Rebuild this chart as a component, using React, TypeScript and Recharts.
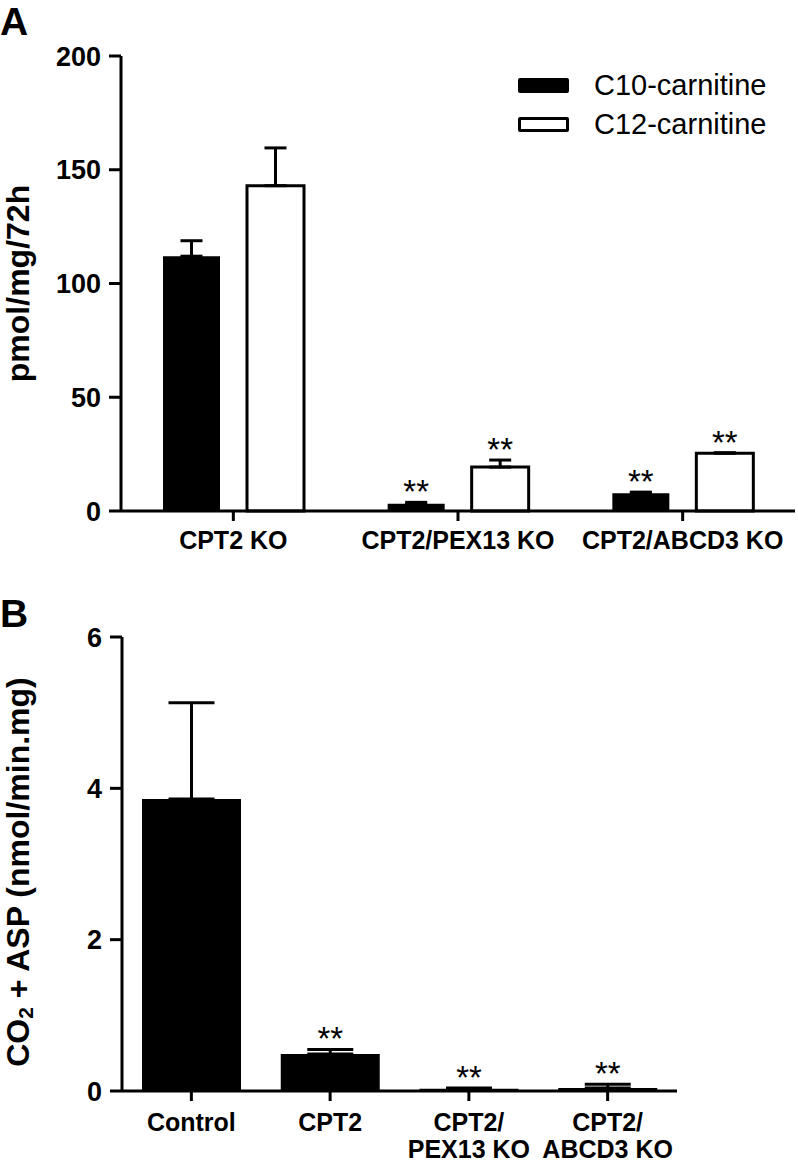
import React from "react";
import { BarChart, Bar, XAxis, YAxis, ErrorBar, LabelList, Legend } from "recharts";

const FONT = "'Liberation Sans', Arial, Helvetica, sans-serif";

// panel A: acylcarnitines
const groupsA = ["CPT2 KO", "CPT2/PEX13 KO", "CPT2/ABCD3 KO"];
const seriesA = ["C10-carnitine", "C12-carnitine"];
const c10Mean = [112, 3.2, 7.8];
const c10Sem = [6.8, 0.6, 0.5];
const c10Sig = ["", "**", "**"];
const c12Mean = [143, 19.3, 25.4];
const c12Sem = [16.6, 3.1, 0.2];
const c12Sig = ["", "**", "**"];
const ticksA = [0, 50, 100, 150, 200];

// panel B: oxidation
const groupsB = ["Control", "CPT2", "CPT2/\nPEX13 KO", "CPT2/\nABCD3 KO"];
const oxMean = [3.86, 0.49, 0.03, 0.04];
const oxSem = [1.27, 0.06, 0.01, 0.05];
const oxSig = ["", "**", "**", "**"];
const ticksB = [0, 2, 4, 6];

const dataA = groupsA.map((group, i) => ({
  group,
  c10: c10Mean[i],
  c10Err: [0, c10Sem[i]],
  c10Sig: c10Sig[i],
  c12: c12Mean[i],
  c12Err: [0, c12Sem[i]],
  c12Sig: c12Sig[i],
}));

const dataB = groupsB.map((group, i) => ({
  group,
  ox: oxMean[i],
  oxErr: [0, oxSem[i]],
  oxSig: oxSig[i],
}));

const axisStroke = { stroke: "#000", strokeWidth: 3 };
const tickFont = { fontFamily: FONT, fontWeight: 700, fontSize: 25, fill: "#000" };
const yTickFont = { ...tickFont, fontSize: 27 };

// stars sit just above the error bar; bar height / value gives px per unit
function starsLabel(means: number[], sems: number[]) {
  return (props: any) => {
    const { index, value } = props;
    if (!value) return null;
    const vb = props.viewBox ?? props;
    const { x, y, width, height } = vb;
    const pxPerUnit = height / means[index];
    const top = y - sems[index] * pxPerUnit;
    return (
      <text x={x + width / 2} y={top + 1} textAnchor="middle" fontFamily={FONT} fontSize={33} fill="#000">
        {value}
      </text>
    );
  };
}

const yLabelA = (props: any) => {
  const { x, y, height } = props.viewBox;
  const cx = x + 18;
  const cy = y + height / 2;
  return (
    <text x={cx} y={cy} transform={`rotate(-90 ${cx} ${cy})`} textAnchor="middle" dominantBaseline="central"
      fontFamily={FONT} fontWeight={700} fontSize={32} fill="#000">
      pmol/mg/72h
    </text>
  );
};

const yLabelB = (props: any) => {
  const { x, y, height } = props.viewBox;
  const cx = x + 18;
  const cy = y + height / 2 + 8;
  return (
    <text x={cx} y={cy} transform={`rotate(-90 ${cx} ${cy})`} textAnchor="middle" dominantBaseline="central"
      fontFamily={FONT} fontWeight={700} fontSize={32} fill="#000">
      <tspan>CO</tspan>
      <tspan fontSize={21} dy={7}>2</tspan>
      <tspan dy={-7}> + ASP (nmol/min.mg)</tspan>
    </text>
  );
};

const tickB = (props: any) => {
  const { x, y, payload } = props;
  const lines = String(payload.value).split("\n");
  return (
    <text x={x} y={y} textAnchor="middle" {...tickFont}>
      {lines.map((l, i) => (
        <tspan key={i} x={x} dy={i === 0 ? "0.71em" : 27}>
          {l}
        </tspan>
      ))}
    </text>
  );
};

const legendContent = () => (
  <div style={{ fontFamily: FONT, fontSize: 29, color: "#000" }}>
    {seriesA.map((name, i) => (
      <div key={name} style={{ display: "flex", alignItems: "center", height: 39 }}>
        <div
          style={{
            width: 51,
            height: 15,
            boxSizing: "border-box",
            borderRadius: 2,
            background: i === 0 ? "#000" : "#fff",
            border: "3px solid #000",
          }}
        />
        <span style={{ marginLeft: 25 }}>{name}</span>
      </div>
    ))}
  </div>
);

const panelLetter = (top: number): React.CSSProperties => ({
  position: "absolute",
  left: 0,
  top,
  fontFamily: FONT,
  fontWeight: 700,
  fontSize: 39,
  lineHeight: "39px",
});

export default function App() {
  return (
    <div style={{ position: "absolute", left: 0, top: 0, width: 798, height: 1162, background: "#fff", overflow: "hidden" }}>
      <div style={{ position: "absolute", left: 0, top: 0 }}>
        <BarChart width={798} height={580} data={dataA} margin={{ top: 56, right: 3, bottom: 29, left: 0 }}
          barSize={57} barGap={27}>
          <XAxis dataKey="group" axisLine={axisStroke} tickLine={axisStroke} tickSize={10} tickMargin={10}
            tick={tickFont} height={40} interval={0} />
          <YAxis domain={[0, 200]} ticks={ticksA} width={121} axisLine={axisStroke} tickLine={axisStroke}
            tickSize={12} tickMargin={8} tick={yTickFont} label={yLabelA} />
          <Legend layout="vertical" align="center" verticalAlign="middle" content={legendContent}
            wrapperStyle={{ left: 518, top: 66, width: 280 }} />
          <Bar dataKey="c10" name={seriesA[0]} fill="#000" isAnimationActive={false}>
            <ErrorBar dataKey="c10Err" width={11} stroke="#000" strokeWidth={3} direction="y" />
            <LabelList dataKey="c10Sig" content={starsLabel(c10Mean, c10Sem)} />
          </Bar>
          <Bar dataKey="c12" name={seriesA[1]} fill="#fff" stroke="#000" strokeWidth={3} isAnimationActive={false}>
            <ErrorBar dataKey="c12Err" width={11} stroke="#000" strokeWidth={3} direction="y" />
            <LabelList dataKey="c12Sig" content={starsLabel(c12Mean, c12Sem)} />
          </Bar>
        </BarChart>
      </div>
      <div style={{ position: "absolute", left: 0, top: 580 }}>
        <BarChart width={798} height={582} data={dataB} margin={{ top: 57, right: 121, bottom: 11, left: 0 }}
          barSize={99}>
          <XAxis dataKey="group" axisLine={axisStroke} tickLine={axisStroke} tickSize={10} tickMargin={12}
            tick={tickB} height={60} interval={0} />
          <YAxis domain={[0, 6]} ticks={ticksB} width={122} axisLine={axisStroke} tickLine={axisStroke}
            tickSize={12} tickMargin={8} tick={yTickFont} label={yLabelB} />
          <Bar dataKey="ox" fill="#000" isAnimationActive={false}>
            <ErrorBar dataKey="oxErr" width={23} stroke="#000" strokeWidth={3} direction="y" />
            <LabelList dataKey="oxSig" content={starsLabel(oxMean, oxSem)} />
          </Bar>
        </BarChart>
      </div>
      <div style={panelLetter(2)}>A</div>
      <div style={panelLetter(594)}>B</div>
    </div>
  );
}
